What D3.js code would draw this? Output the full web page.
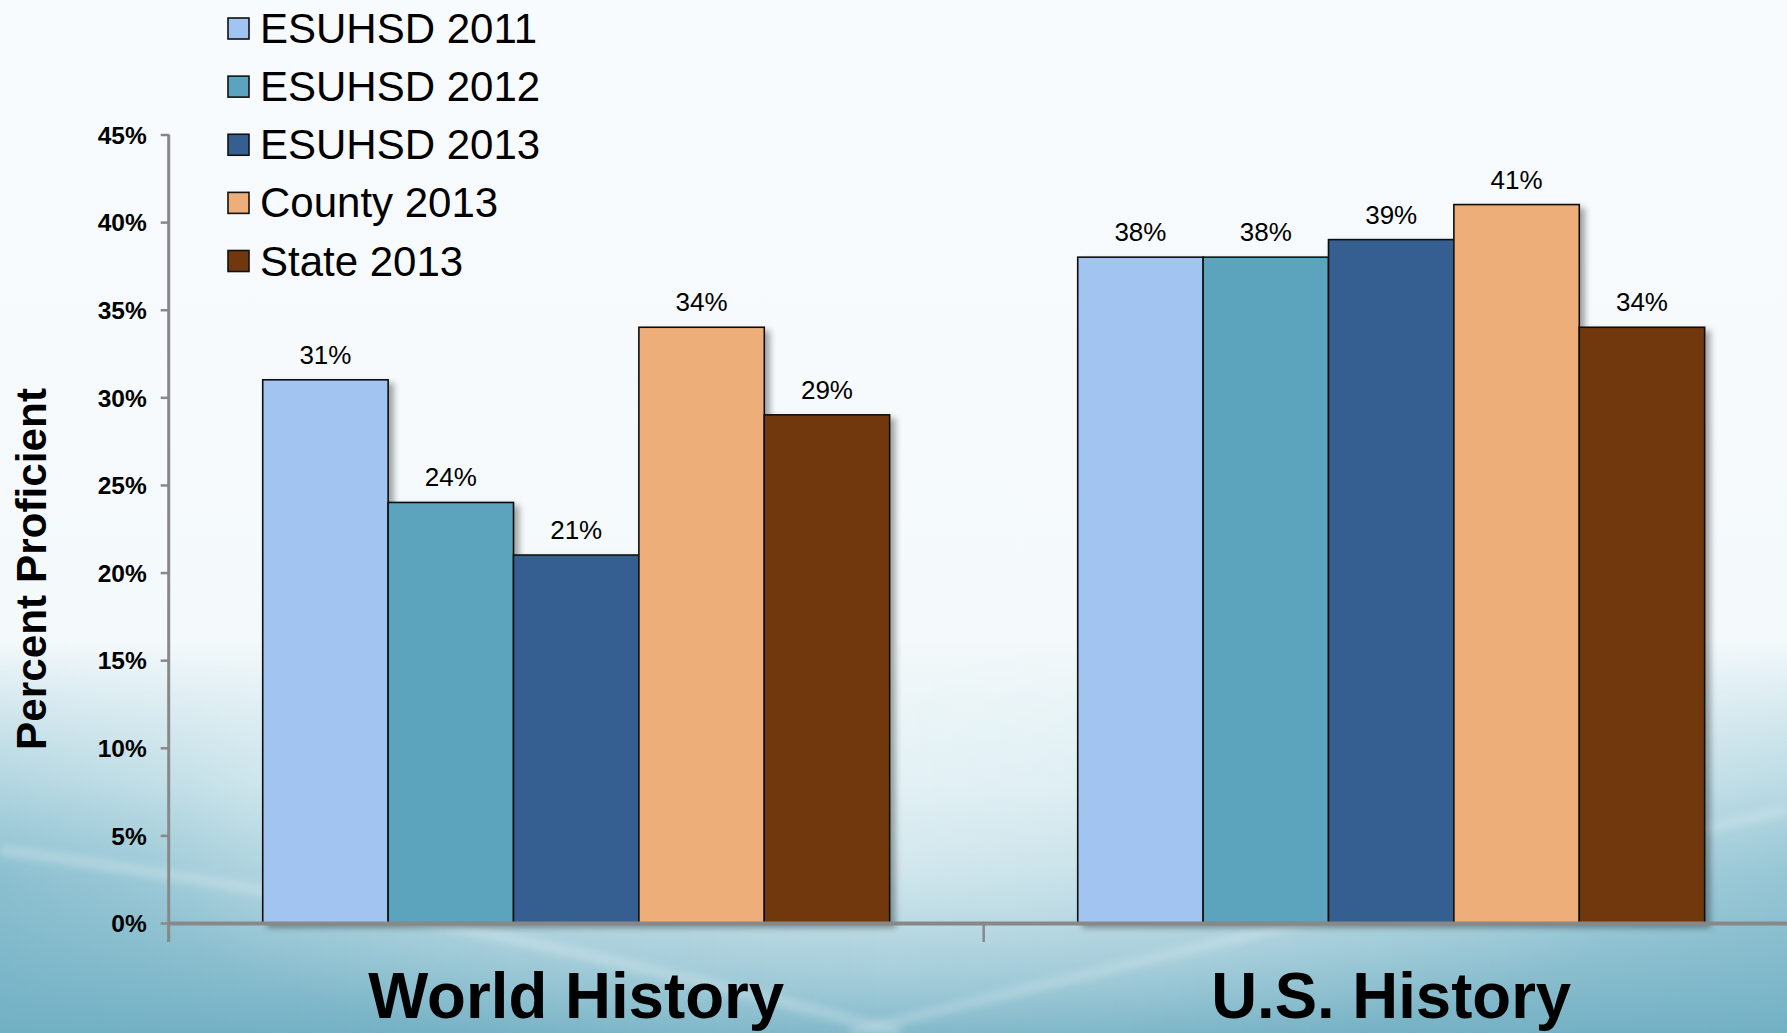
<!DOCTYPE html>
<html>
<head>
<meta charset="utf-8">
<script src="https://cdn.jsdelivr.net/npm/d3@7"></script>
<style>
  html, body { margin: 0; padding: 0; overflow: hidden; }
  svg { display: block; font-family: "Liberation Sans", Arial, sans-serif; }
</style>
</head>
<body>
<svg id="chart" width="1787" height="1033"></svg>
<script>
// ---- data ----
const categories = ["World History", "U.S. History"];
const seriesNames = ["ESUHSD 2011", "ESUHSD 2012", "ESUHSD 2013", "County 2013", "State 2013"];
const seriesColors = ["#A1C4F0", "#5BA3BE", "#365F91", "#EEAE79", "#713810"];
const worldHistory = [31, 24, 21, 34, 29];
const usHistory = [38, 38, 39, 41, 34];
const yTicks = [0, 5, 10, 15, 20, 25, 30, 35, 40, 45];
const yTitle = "Percent Proficient";

const values = [worldHistory, usHistory];

const W = 1787, H = 1033;
const svg = d3.select("#chart");
const defs = svg.append("defs");

// background gradient
const bg = defs.append("linearGradient").attr("id", "bg").attr("x1", 0).attr("y1", 0).attr("x2", 0).attr("y2", 1);
[["0%", "#F8FBFD"], ["62%", "#F4F9FB"], ["76%", "#D9ECF1"], ["88%", "#AAD1DD"], ["100%", "#76B2C5"]]
  .forEach(([o, c]) => bg.append("stop").attr("offset", o).attr("stop-color", c));
svg.append("rect").attr("width", W).attr("height", H).attr("fill", "url(#bg)");

// left/right lower darkening
const lr = defs.append("linearGradient").attr("id", "lr").attr("x1", 0).attr("y1", 0).attr("x2", 1).attr("y2", 0);
[["0%", 0.6], ["15%", 0.2], ["50%", 0], ["85%", 0.15], ["100%", 0.45]]
  .forEach(([o, a]) => lr.append("stop").attr("offset", o).attr("stop-color", "#6FAFC3").attr("stop-opacity", a));
const vm = defs.append("linearGradient").attr("id", "vm").attr("x1", 0).attr("y1", 0).attr("x2", 0).attr("y2", 1);
[["0%", "#000"], ["62%", "#000"], ["85%", "#fff"], ["100%", "#fff"]]
  .forEach(([o, c]) => vm.append("stop").attr("offset", o).attr("stop-color", c));
defs.append("mask").attr("id", "lowmask").append("rect").attr("width", W).attr("height", H).attr("fill", "url(#vm)");
svg.append("rect").attr("width", W).attr("height", H).attr("fill", "url(#lr)").attr("mask", "url(#lowmask)");

// light dome in the lower middle
const dome = defs.append("radialGradient").attr("id", "dome").attr("cx", 0.5).attr("cy", 0.5).attr("r", 0.5);
dome.append("stop").attr("offset", "0%").attr("stop-color", "#ffffff").attr("stop-opacity", 0.35);
dome.append("stop").attr("offset", "60%").attr("stop-color", "#ffffff").attr("stop-opacity", 0.18);
dome.append("stop").attr("offset", "100%").attr("stop-color", "#ffffff").attr("stop-opacity", 0);
svg.append("ellipse").attr("cx", 900).attr("cy", 860).attr("rx", 760).attr("ry", 220).attr("fill", "url(#dome)");

// swooshes
const blur = defs.append("filter").attr("id", "blur").attr("filterUnits", "userSpaceOnUse")
  .attr("x", 0).attr("y", 0).attr("width", W).attr("height", H);
blur.append("feGaussianBlur").attr("stdDeviation", 4);
svg.append("path")
  .attr("d", "M0,850 Q450,910 900,1033")
  .attr("fill", "none").attr("stroke", "#ffffff").attr("stroke-opacity", 0.25).attr("stroke-width", 10).attr("filter", "url(#blur)");
svg.append("path")
  .attr("d", "M850,1033 Q1300,920 1787,810")
  .attr("fill", "none").attr("stroke", "#ffffff").attr("stroke-opacity", 0.25).attr("stroke-width", 8).attr("filter", "url(#blur)");

// shadow filter
const sh = defs.append("filter").attr("id", "shadow").attr("x", "-10%").attr("y", "-10%").attr("width", "130%").attr("height", "130%");
sh.append("feDropShadow").attr("dx", 5).attr("dy", 4).attr("stdDeviation", 3).attr("flood-color", "#000").attr("flood-opacity", 0.35);

// scales
const plotLeft = 168.7, plotRight = 1798.7;
const y = d3.scaleLinear().domain([0, 45]).range([923, 134.5]);
const x0 = d3.scaleBand().domain(categories).range([plotLeft, plotRight]).paddingInner(0).paddingOuter(0);
const x1 = d3.scaleBand().domain(seriesNames).range([0, x0.bandwidth()]).paddingInner(0).paddingOuter(0.75);
const color = d3.scaleOrdinal().domain(seriesNames).range(seriesColors);

// bars
const groups = svg.append("g").selectAll("g").data(categories).join("g")
  .attr("transform", d => `translate(${x0(d)},0)`)
  .attr("filter", "url(#shadow)");
groups.selectAll("rect").data((c, i) => seriesNames.map((s, j) => ({ s, v: values[i][j] })))
  .join("rect")
  .attr("x", d => x1(d.s))
  .attr("y", d => y(d.v))
  .attr("width", x1.bandwidth())
  .attr("height", d => y(0) - y(d.v))
  .attr("fill", d => color(d.s))
  .attr("stroke", "#111")
  .attr("stroke-width", 1.6);

// data labels
const lg = svg.append("g");
categories.forEach((c, i) => {
  seriesNames.forEach((s, j) => {
    lg.append("text")
      .attr("x", x0(c) + x1(s) + x1.bandwidth() / 2)
      .attr("y", y(values[i][j]) - 16)
      .attr("text-anchor", "middle")
      .attr("font-size", 26)
      .attr("fill", "#000")
      .text(values[i][j] + "%");
  });
});

// y axis
const yAxis = d3.axisLeft(y).tickValues(yTicks).tickFormat(d => d + "%").tickSize(8).tickSizeOuter(0);
const ya = svg.append("g").attr("transform", `translate(${plotLeft},0)`).call(yAxis);
ya.select(".domain").remove();
ya.selectAll(".tick line").attr("stroke", "#888").attr("stroke-width", 2.5);
ya.selectAll(".tick text").attr("font-size", 24.5).attr("font-weight", "bold").attr("fill", "#000")
  .attr("x", -22).attr("dy", "0.36em").attr("font-family", "'Liberation Sans', Arial, sans-serif");
svg.append("line").attr("x1", plotLeft).attr("x2", plotLeft).attr("y1", y(45)).attr("y2", 942)
  .attr("stroke", "#888").attr("stroke-width", 3);

// x axis
const xAxis = d3.axisBottom(x0).tickSize(0).tickFormat("");
const xa = svg.append("g").attr("transform", `translate(0,${y(0)})`).call(xAxis);
xa.select(".domain").attr("stroke", "#888").attr("stroke-width", 4);
// category boundary ticks
const bounds = categories.map(c => x0(c));
svg.append("g").selectAll("line").data(bounds).join("line")
  .attr("x1", d => d).attr("x2", d => d)
  .attr("y1", y(0)).attr("y2", 942)
  .attr("stroke", "#888").attr("stroke-width", 2.5);

// category labels
svg.append("g").selectAll("text").data(categories).join("text")
  .attr("x", d => x0(d) + x0.bandwidth() / 2)
  .attr("y", 1018)
  .attr("text-anchor", "middle")
  .attr("font-size", 64)
  .attr("font-weight", "bold")
  .attr("fill", "#000")
  .attr("textLength", (d, i) => i === 0 ? 416 : 360)
  .attr("lengthAdjust", "spacingAndGlyphs")
  .text(d => d);

// y title
svg.append("text")
  .attr("transform", `translate(46,569) rotate(-90)`)
  .attr("text-anchor", "middle")
  .attr("font-size", 42)
  .attr("font-weight", "bold")
  .attr("fill", "#000")
  .attr("textLength", 362)
  .attr("lengthAdjust", "spacingAndGlyphs")
  .text(yTitle);

// legend
const leg = svg.append("g").attr("transform", "translate(228,0)");
const rowY = d3.scalePoint().domain(seriesNames).range([28.5, 261]);
const items = leg.selectAll("g").data(seriesNames).join("g")
  .attr("transform", d => `translate(0,${rowY(d)})`);
items.append("rect").attr("x", 0).attr("y", -10.5).attr("width", 21).attr("height", 21)
  .attr("fill", d => color(d)).attr("stroke", "#111").attr("stroke-width", 1.6);
items.append("text").attr("x", 32).attr("y", 14.5).attr("font-size", 42).attr("fill", "#000").text(d => d);
</script>
</body>
</html>
